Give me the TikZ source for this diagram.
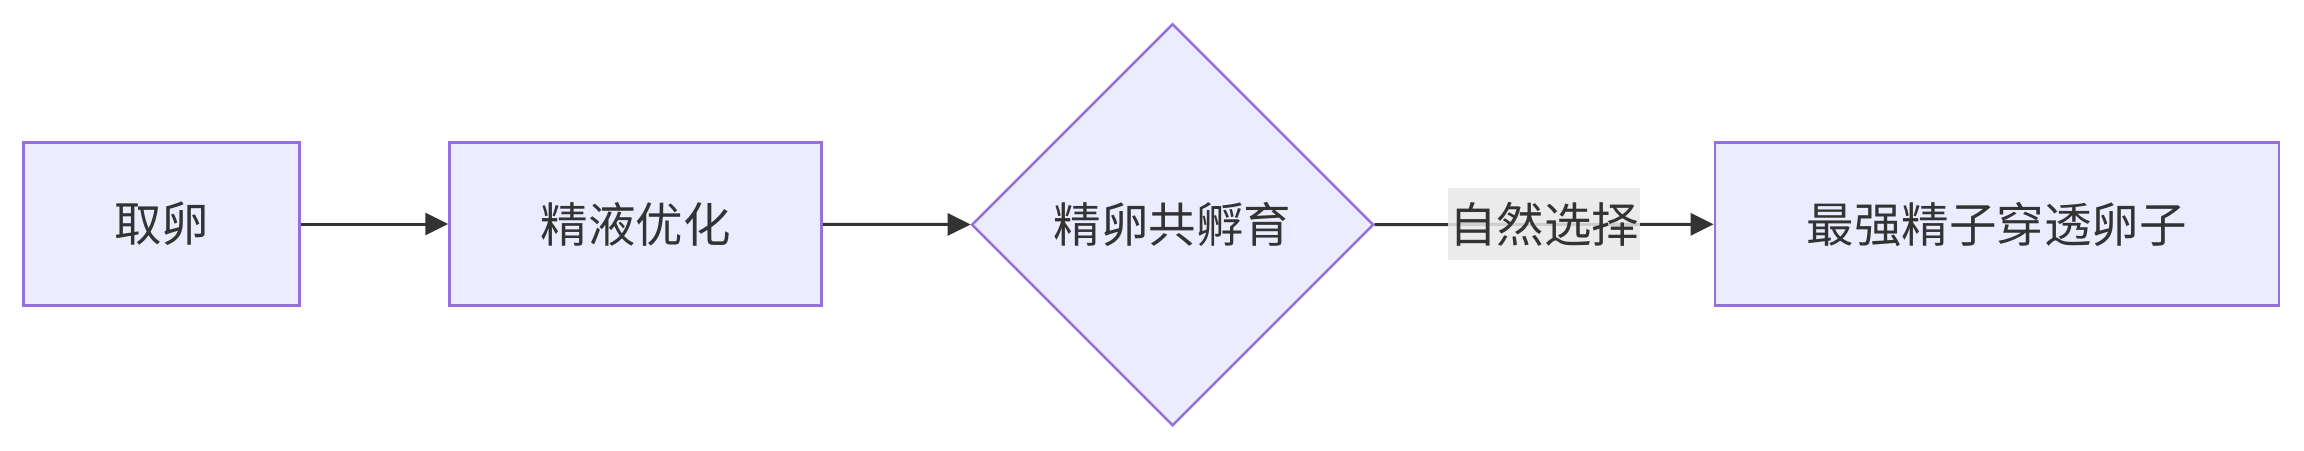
\documentclass[tikz,border=0pt]{standalone}
\usepackage{fontspec}
\setmainfont{Noto Sans CJK SC}
\usetikzlibrary{shapes.geometric,arrows.meta}
\definecolor{nodefill}{HTML}{ECECFF}
\definecolor{nodeborder}{HTML}{9370DB}
\definecolor{txt}{HTML}{333333}
\definecolor{lblbg}{HTML}{E8E8E8}
\begin{document}
\begin{tikzpicture}[x=1pt,y=-1pt,
  lbltext/.style={text=txt,font=\fontsize{47.5}{56}\selectfont},
  box/.style={draw=nodeborder,fill=nodefill,line width=2.5pt,minimum height=163pt,inner sep=0pt,lbltext},
  dia/.style={diamond,draw=nodeborder,fill=nodefill,line width=2.5pt,minimum width=402pt,minimum height=402pt,inner sep=0pt,lbltext},
  conn/.style={draw=txt,line width=3pt,-{Triangle[length=23pt,width=22pt]}},
  elabel/.style={fill=lblbg,fill opacity=0.85,text opacity=1,inner sep=0pt,minimum width=192pt,minimum height=72pt,lbltext}]
\useasboundingbox (0,0) rectangle (2304,450);
\node[box,minimum width=276pt] (a) at (161.6,224) {取卵};
\node[box,minimum width=372pt] (b) at (635.5,224) {精液优化};
\node[dia] (c) at (1172.6,224.8) {精卵共孵育};
\node[box,minimum width=564pt] (d) at (1996.9,224) {最强精子穿透卵子};
\draw[conn] (a) -- (b);
\draw[conn] (b) -- (c);
\draw[conn] (c) -- node[elabel] {自然选择} (d);
\end{tikzpicture}
\end{document}
